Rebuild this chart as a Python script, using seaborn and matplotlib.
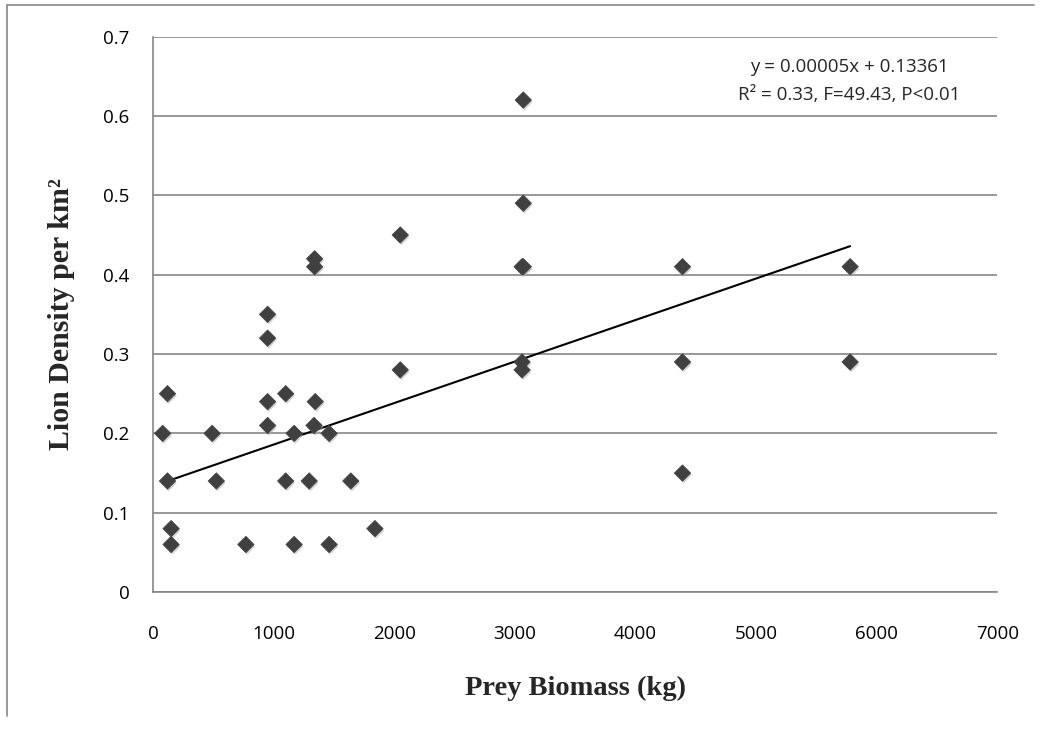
import matplotlib
matplotlib.use("Agg")
import matplotlib.pyplot as plt
import matplotlib.patheffects as pe
from matplotlib.lines import Line2D
import seaborn as sns
import pandas as pd

prey_biomass = [2050, 1340, 1340, 950, 950, 2050, 120, 950, 1100, 1345,
                80, 490, 950, 1170, 1335, 1460, 120, 525, 1100, 1295,
                1640, 150, 150, 770, 1170, 1460, 1840,
                3070, 3070, 3060, 3070, 3060, 3060,
                4390, 4390, 4390, 5780, 5780]
lion_density = [0.45, 0.42, 0.41, 0.35, 0.32, 0.28, 0.25, 0.24, 0.25, 0.24,
                0.20, 0.20, 0.21, 0.20, 0.21, 0.20, 0.14, 0.14, 0.14, 0.14,
                0.14, 0.08, 0.06, 0.06, 0.06, 0.06, 0.08,
                0.62, 0.49, 0.41, 0.41, 0.29, 0.28,
                0.41, 0.29, 0.15, 0.41, 0.29]
trend_slope = 0.0000523
trend_intercept = 0.13361
y_ticks = [0, 0.1, 0.2, 0.3, 0.4, 0.5, 0.6, 0.7]
y_tick_labels = ["0", "0.1", "0.2", "0.3", "0.4", "0.5", "0.6", "0.7"]
x_ticks = [0, 1000, 2000, 3000, 4000, 5000, 6000, 7000]
equation_text = "y = 0.00005x + 0.13361\nR² = 0.33, F=49.43, P<0.01"

df = pd.DataFrame({"Prey Biomass (kg)": prey_biomass,
                   "Lion Density": lion_density})
x_ends = [min(prey_biomass), max(prey_biomass)]
trend_df = pd.DataFrame({"x": x_ends,
                         "y": [trend_intercept + trend_slope * v for v in x_ends]})

sns.set_theme(style="white")
plt.rcParams["font.family"] = ["Open Sans", "DejaVu Sans"]

fig = plt.figure(figsize=(10.41, 7.31), dpi=100)
ax = fig.add_axes([0.147, 0.19, 0.811, 0.76])

sns.lineplot(data=trend_df, x="x", y="y", ax=ax, color="black", lw=1.5,
             zorder=2, estimator=None)
sns.scatterplot(data=df, x="Prey Biomass (kg)", y="Lion Density", ax=ax,
                marker="D", s=70, color="#404040", edgecolor="#404040",
                linewidth=0.5, zorder=3,
                path_effects=[pe.SimplePatchShadow(offset=(0.8, -1.5), shadow_rgbFace="#aaaaaa", alpha=0.5), pe.Normal()])

ax.set_xlim(0, 7000)
ax.set_ylim(0, 0.7)
ax.set_xticks(x_ticks)
ax.set_xticklabels([str(t) for t in x_ticks])
ax.set_yticks(y_ticks)
ax.set_yticklabels(y_tick_labels)
ax.yaxis.grid(True, color="#868686", lw=1.2)
ax.xaxis.grid(False)
ax.set_axisbelow(True)
for s in ["top", "right"]:
    ax.spines[s].set_visible(False)
for s in ["left", "bottom"]:
    ax.spines[s].set_color("#868686")
    ax.spines[s].set_linewidth(1.2)
ax.tick_params(axis="both", labelsize=13.5, colors="black", length=0)
ax.tick_params(axis="x", pad=24)
ax.tick_params(axis="y", pad=17)

ax.set_xlabel("Prey Biomass (kg)", fontfamily="Liberation Serif",
              fontweight="bold", fontsize=20.5, labelpad=23)
ax.set_ylabel("Lion Density per km²", fontfamily="Liberation Serif",
              fontweight="bold", fontsize=21.5, labelpad=20)

ax.text(0.825, 0.962, equation_text, transform=ax.transAxes, ha="center",
        va="top", fontsize=13.5, linespacing=1.75)

fig.add_artist(Line2D([0.007, 0.007], [0.02, 0.993], transform=fig.transFigure,
                      color="#868686", lw=1.2))
fig.add_artist(Line2D([0.007, 0.993], [0.993, 0.993], transform=fig.transFigure,
                      color="#868686", lw=1.2))

fig.savefig("out.png", dpi=100)
